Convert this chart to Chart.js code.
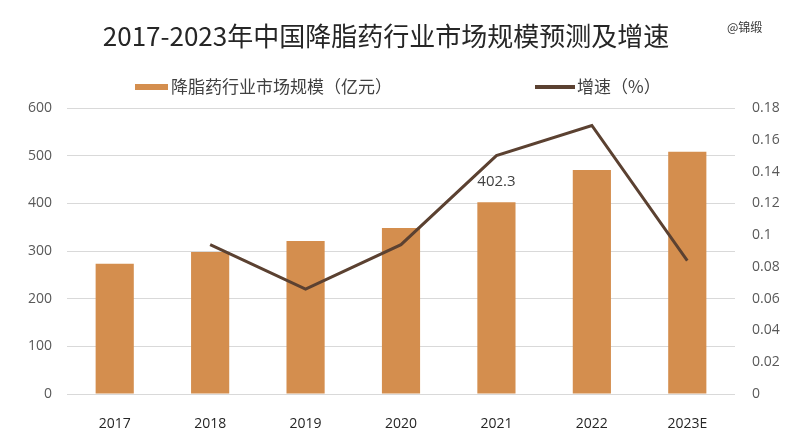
<!DOCTYPE html>
<html>
<head>
<meta charset="utf-8">
<script src="https://cdn.jsdelivr.net/npm/chart.js@4.4.1/dist/chart.umd.min.js"></script>
<style>
  html, body { margin: 0; padding: 0; background: #fff; }
  #wrap { width: 789px; height: 445px; }
</style>
</head>
<body>
<div id="wrap"><canvas id="c" width="789" height="445"></canvas></div>
<script>
// data
const years = ['2017', '2018', '2019', '2020', '2021', '2022', '2023E'];
const marketSize = [273, 298, 321, 348, 402.3, 470, 508];
const growthRate = [null, 0.094, 0.066, 0.094, 0.150, 0.169, 0.084];
const labelledIndex = 4; // only 2021 carries a value label

const titleText = '2017-2023年中国降脂药行业市场规模预测及增速';
const barColor = '#D48E4E';
const lineColor = '#5B4131';
const CJK = '"Noto Sans CJK SC", "Noto Sans", sans-serif';

// title, source mark and legend drawn in one plugin
const decor = {
  id: 'decor',
  afterDraw(chart) {
    const ctx = chart.ctx;
    const ds = chart.data.datasets;
    const line = ds[0], bars = ds[1];
    ctx.save();
    ctx.fillStyle = '#262626';
    ctx.font = '26px ' + CJK;
    ctx.textAlign = 'center';
    ctx.textBaseline = 'middle';
    ctx.fillText(titleText, 386, 36);

    ctx.fillStyle = '#333';
    ctx.font = '12px ' + CJK;
    ctx.textAlign = 'left';
    ctx.fillText('@锦缎', 727, 27);

    // legend
    ctx.font = '17px ' + CJK;
    ctx.fillStyle = bars.backgroundColor;
    ctx.fillRect(135, 84, 33, 6);
    ctx.fillStyle = '#404040';
    ctx.fillText(bars.label, 171, 87);
    ctx.strokeStyle = line.borderColor;
    ctx.lineWidth = 4;
    ctx.beginPath();
    ctx.moveTo(535, 87);
    ctx.lineTo(575, 87);
    ctx.stroke();
    ctx.fillText(line.label, 577, 87);

    // value label on 2021 bar
    const bar = chart.getDatasetMeta(1).data[labelledIndex];
    ctx.font = '15px "Open Sans", "Noto Sans", sans-serif';
    ctx.textAlign = 'center';
    ctx.fillStyle = '#404040';
    ctx.fillText(String(marketSize[labelledIndex]), bar.x, bar.y - 21);
    ctx.restore();
  }
};

new Chart(document.getElementById('c'), {
  data: {
    labels: years,
    datasets: [
      {
        type: 'line',
        label: '增速（%）',
        data: growthRate,
        yAxisID: 'y1',
        borderColor: lineColor,
        borderWidth: 3,
        pointRadius: 0,
        tension: 0,
        order: 0
      },
      {
        type: 'bar',
        label: '降脂药行业市场规模（亿元）',
        data: marketSize,
        yAxisID: 'y',
        backgroundColor: barColor,
        barPercentage: 0.8,
        categoryPercentage: 0.5,
        order: 1
      }
    ]
  },
  options: {
    responsive: false,
    animation: false,
    layout: { padding: { top: 108, left: 0, right: 0, bottom: 0 } },
    plugins: {
      legend: { display: false },
      title: { display: false },
      tooltip: { enabled: false }
    },
    scales: {
      x: {
        grid: { display: false },
        border: { display: false },
        ticks: { color: '#262626', font: { size: 14, family: '"Open Sans", sans-serif' }, padding: 14 },
        afterFit(s) { s.height = 51; }
      },
      y: {
        position: 'left',
        min: 0, max: 600,
        ticks: { stepSize: 100, color: '#595959', font: { size: 14, family: '"Open Sans", sans-serif' }, padding: 15 },
        grid: { color: '#D9D9D9', drawTicks: false, lineWidth: 1 },
        border: { display: false },
        afterFit(s) { s.width = 67; }
      },
      y1: {
        position: 'right',
        min: 0, max: 0.18,
        ticks: {
          stepSize: 0.02, color: '#595959', font: { size: 14, family: '"Open Sans", sans-serif' }, padding: 17,
          callback: v => String(Math.round(v * 100) / 100)
        },
        grid: { drawOnChartArea: false, drawTicks: false },
        border: { display: false },
        afterFit(s) { s.width = 54; }
      }
    }
  },
  plugins: [decor]
});
</script>
</body>
</html>
